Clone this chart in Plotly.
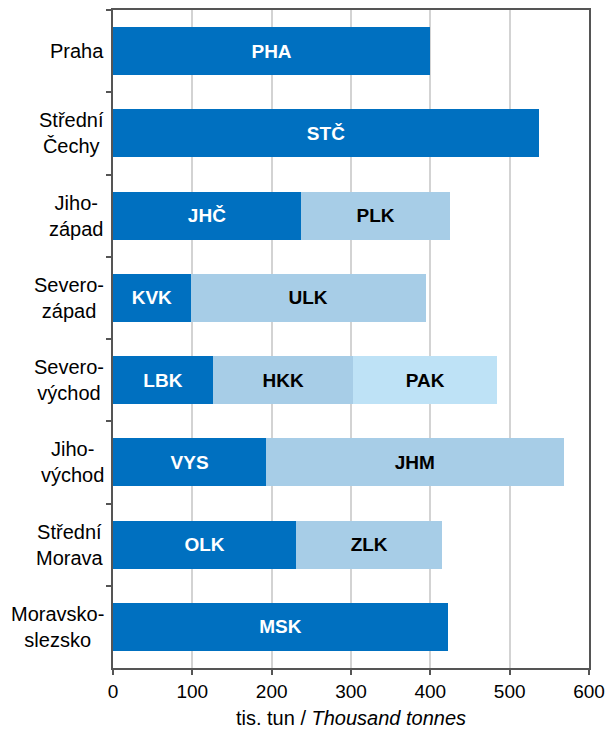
import plotly.graph_objects as go

# Regions (cohesion regions), top to bottom
regions = ["Praha", "Střední\nČechy", "Jiho-\nzápad", "Severo-\nzápad",
           "Severo-\nvýchod", "Jiho-\nvýchod", "Střední\nMorava", "Moravsko-\nslezsko"]

# First kraj in each region
seg1_codes = ["PHA", "STČ", "JHČ", "KVK", "LBK", "VYS", "OLK", "MSK"]
seg1_vals = [400, 537, 237, 98, 126, 193, 231, 422]

# Second kraj
seg2_codes = ["", "", "PLK", "ULK", "HKK", "JHM", "ZLK", ""]
seg2_vals = [None, None, 188, 296, 177, 375, 184, None]

# Third kraj
seg3_codes = ["", "", "", "", "PAK", "", "", ""]
seg3_vals = [None, None, None, None, 181, None, None, None]

x_ticks = [0, 100, 200, 300, 400, 500, 600]

FONT = "Liberation Sans, Arial, Helvetica, sans-serif"
cats = [r.replace("\n", " ") for r in regions]

fig = go.Figure()


def add_segment(vals, codes, color, text_color):
    fig.add_trace(go.Bar(
        y=cats, x=vals, orientation="h",
        marker=dict(color=color, line=dict(width=0)),
        text=[f"<b>{c}</b>" for c in codes],
        textposition="inside", insidetextanchor="middle", textangle=0,
        insidetextfont=dict(family=FONT, size=19, color=text_color),
        constraintext="none",
        hoverinfo="skip",
    ))


add_segment(seg1_vals, seg1_codes, "#0070c0", "white")
add_segment(seg2_vals, seg2_codes, "#a7cde7", "black")
add_segment(seg3_vals, seg3_codes, "#bee2f6", "black")

# Two-line region names, centred, left of the axis
for cat, name in zip(cats, regions):
    fig.add_annotation(
        x=0, xref="paper", y=cat, yref="y",
        text=name.replace("\n", "<br>"), showarrow=False,
        xanchor="right", yanchor="middle", align="center",
        xshift=-7, font=dict(family=FONT, size=20, color="black"),
    )

fig.update_layout(
    barmode="stack",
    bargap=0.415,
    width=609, height=729,
    margin=dict(l=113, r=20, t=10, b=61, autoexpand=False),
    paper_bgcolor="white", plot_bgcolor="white",
    showlegend=False,
    font=dict(family=FONT, size=19, color="black"),
)

fig.update_xaxes(
    range=[0, 600], tickvals=x_ticks, ticktext=[str(t) for t in x_ticks],
    automargin=False,
    showgrid=True, gridcolor="#d3d3d3", gridwidth=1.5,
    showline=True, linecolor="#555555", linewidth=2, mirror=True,
    ticks="outside", ticklen=5, tickcolor="#555555", tickwidth=2,
    tickfont=dict(family=FONT, size=19, color="black"),
    zeroline=False,
    title=dict(text="tis. tun / <i>Thousand tonnes</i>", standoff=11,
               font=dict(family=FONT, size=20, color="black")),
)

fig.update_yaxes(
    autorange="reversed", categoryorder="array", categoryarray=cats,
    automargin=False,
    showticklabels=False, showgrid=False,
    showline=True, linecolor="#555555", linewidth=2, mirror=True,
    ticks="outside", ticklen=5, tickcolor="#555555", tickwidth=2,
    tickson="boundaries",
)

fig.write_html("out.html")
